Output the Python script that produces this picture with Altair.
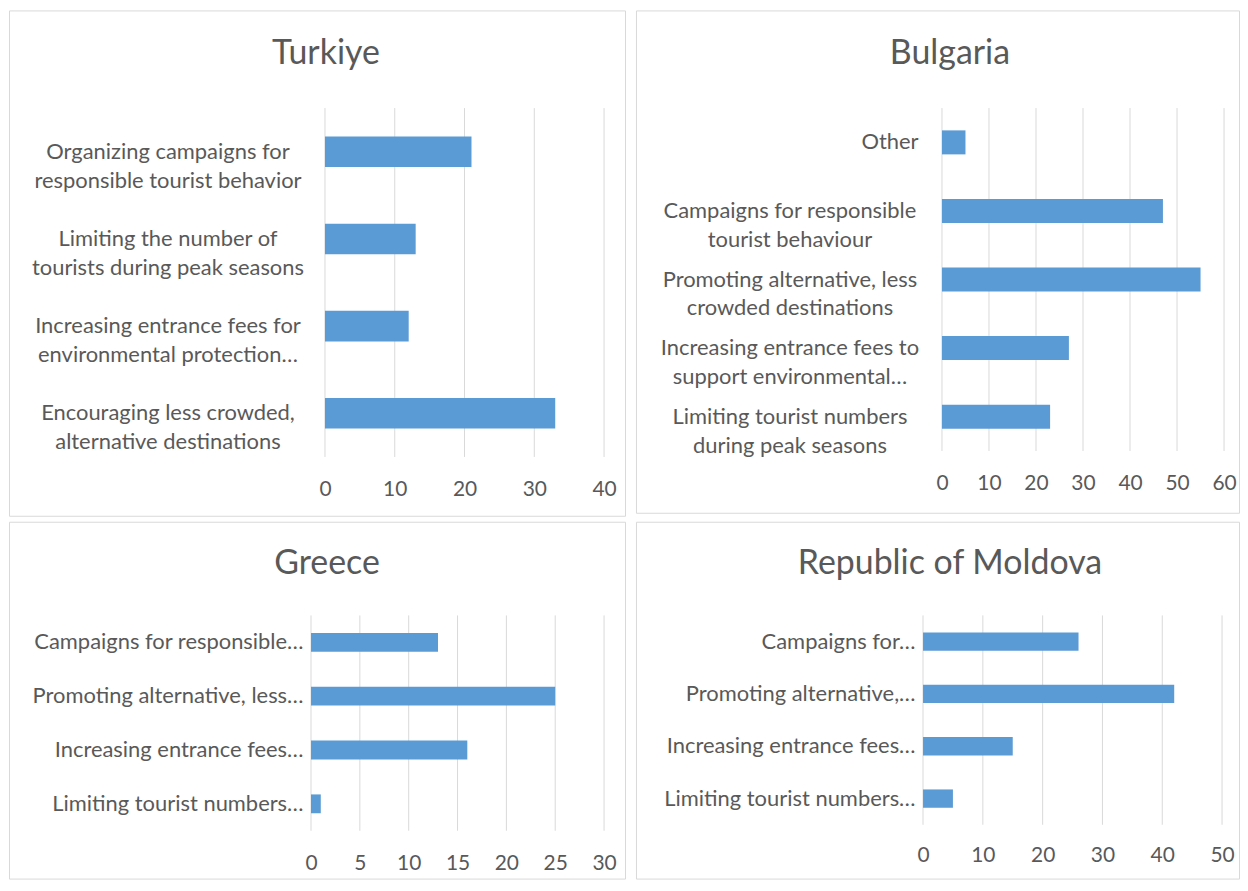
import altair as alt
import pandas as pd

# ---------------- data ----------------
tr_title = "Turkiye"
tr_categories = [
    "Organizing campaigns for\nresponsible tourist behavior",
    "Limiting the number of\ntourists during peak seasons",
    "Increasing entrance fees for\nenvironmental protection…",
    "Encouraging less crowded,\nalternative destinations",
]
tr_values = [21, 13, 12, 33]
tr_ticks = [0, 10, 20, 30, 40]

bg_title = "Bulgaria"
bg_categories = [
    "Other",
    "Campaigns for responsible\ntourist behaviour",
    "Promoting alternative, less\ncrowded destinations",
    "Increasing entrance fees to\nsupport environmental…",
    "Limiting tourist numbers\nduring peak seasons",
]
bg_values = [5, 47, 55, 27, 23]
bg_ticks = [0, 10, 20, 30, 40, 50, 60]

gr_title = "Greece"
gr_categories = [
    "Campaigns for responsible…",
    "Promoting alternative, less…",
    "Increasing entrance fees…",
    "Limiting tourist numbers…",
]
gr_values = [13, 25, 16, 1]
gr_ticks = [0, 5, 10, 15, 20, 25, 30]

md_title = "Republic of Moldova"
md_categories = [
    "Campaigns for…",
    "Promoting alternative,…",
    "Increasing entrance fees…",
    "Limiting tourist numbers…",
]
md_values = [26, 42, 15, 5]
md_ticks = [0, 10, 20, 30, 40, 50]

# ---------------- styles / layout ----------------
FONT = "Lato"
TEXT = "#595959"
GRID = "#D9D9D9"
BAR = "#5B9BD5"
FRAME = "#D9D9D9"
LABEL_SIZE = 22
TICK_SIZE = 21
TITLE_SIZE = 34

# panel size (W, H); plot box inside the panel (L, R, T, B); title anchor (tx, ty)
layouts = {
    "tr": dict(W=618, H=507, L=317, R=597, T=98, B=448, tx=318, ty=54,
               align="center", pad=158, xpad=22),
    "bg": dict(W=605, H=504, L=307, R=590, T=98, B=442, tx=315, ty=54,
               align={"condition": {"test": "datum.value === 'Other'", "value": "right"}, "value": "center"},
               pad={"condition": {"test": "datum.value === 'Other'", "value": 24}, "value": 153},
               xpad=22),
    "gr": dict(W=618, H=358, L=303, R=597, T=94, B=310, tx=319, ty=52,
               align="right", pad=8, xpad=22),
    "md": dict(W=605, H=358, L=288, R=588, T=94, B=304, tx=315, ty=52,
               align="right", pad=8, xpad=20),
}


def panel(title, cats, vals, ticks, lay):
    df = pd.DataFrame({"category": cats, "value": vals})
    tick_df = pd.DataFrame({"tick": ticks})
    one = alt.Data(values=[{}])

    def xscale():
        return alt.Scale(domain=[ticks[0], ticks[-1]], nice=False, range=[lay["L"], lay["R"]])

    def xaxis():
        return alt.Axis(
            offset=-(lay["H"] - lay["B"]),
            values=ticks, grid=False, domain=False, ticks=False,
            labelFlush=False, labelOverlap=False,
            labelFont=FONT, labelFontSize=TICK_SIZE, labelColor=TEXT,
            labelPadding=lay["xpad"],
        )

    grid = alt.Chart(tick_df).mark_rule(color=GRID, strokeWidth=1).encode(
        x=alt.X("tick:Q", scale=xscale(), axis=xaxis(), title=None),
        y=alt.value(lay["T"]), y2=alt.value(lay["B"]),
    )

    bars = alt.Chart(df).mark_bar(color=BAR).encode(
        y=alt.Y(
            "category:N", sort=cats, title=None,
            scale=alt.Scale(paddingInner=0.65, paddingOuter=0.325, range=[lay["T"], lay["B"]]),
            axis=alt.Axis(
                offset=-lay["L"],
                labelExpr="split(datum.label, '\\n')",
                labelAlign=lay["align"], labelPadding=lay["pad"],
                labelFont=FONT, labelFontSize=LABEL_SIZE, labelColor=TEXT,
                labelLineHeight=29, labelLimit=0, ticks=False,
                domain=False, grid=False,
            ),
        ),
        x=alt.X("value:Q", title=None, scale=xscale(), axis=xaxis()),
    )

    ttl = alt.Chart(one).mark_text(
        text=title, align="center", baseline="alphabetic",
        font=FONT, fontSize=TITLE_SIZE, color=TEXT,
    ).encode(x=alt.value(lay["tx"]), y=alt.value(lay["ty"]))

    return alt.layer(grid, bars, ttl).properties(width=lay["W"], height=lay["H"])


tr = panel(tr_title, tr_categories, tr_values, tr_ticks, layouts["tr"])
bg = panel(bg_title, bg_categories, bg_values, bg_ticks, layouts["bg"])
gr = panel(gr_title, gr_categories, gr_values, gr_ticks, layouts["gr"])
md = panel(md_title, md_categories, md_values, md_ticks, layouts["md"])

chart = alt.vconcat(
    alt.hconcat(tr, bg, spacing=9),
    alt.hconcat(gr, md, spacing=9),
    spacing=4,
).properties(padding=0, background="#FFFFFF").configure_view(
    stroke=FRAME, strokeWidth=1
)

chart.save("out.html", embed_options={"renderer": "svg", "actions": False})
